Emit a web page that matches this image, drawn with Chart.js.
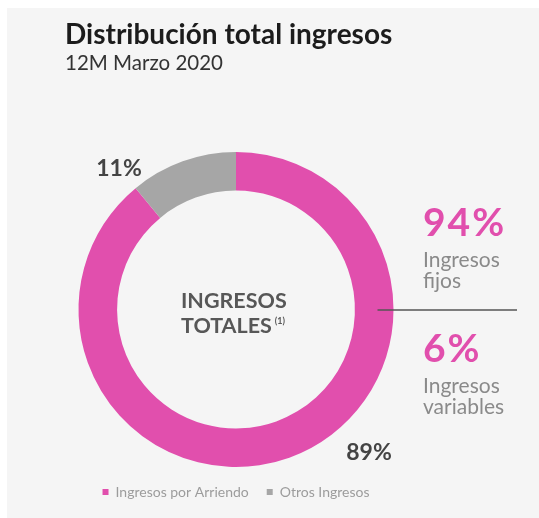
<!DOCTYPE html>
<html>
<head>
<meta charset="utf-8">
<script src="https://cdn.jsdelivr.net/npm/chart.js@4.4.1/dist/chart.umd.min.js"></script>
<style>
  html, body { margin: 0; padding: 0; background: #ffffff; }
  #wrap { position: relative; width: 539px; height: 518px; overflow: hidden; }
  #panel { position: absolute; left: 7px; top: 8px; width: 532px; height: 510px; background: #f5f5f5; }
  #chart { position: absolute; left: 0; top: 0; }
</style>
</head>
<body>
<div id="wrap">
  <div id="panel"></div>
  <canvas id="chart" width="539" height="518"></canvas>
</div>
<script>
const categories = ['Ingresos por Arriendo', 'Otros Ingresos'];
const shares = [89, 11];
const sliceColors = ['#e14fad', '#a6a6a6'];
const titleText = 'Distribución total ingresos';
const subtitleText = '12M Marzo 2020';
const centerLines = ['INGRESOS', 'TOTALES'];
const splitValues = ['94%', '6%'];
const splitLabels = [['Ingresos', 'fijos'], ['Ingresos', 'variables']];

const ctx = document.getElementById('chart').getContext('2d');

// Titles, centre text, slice labels and the right-hand breakdown
const annotations = {
    id: 'annotations',
    afterDraw(chart) {
        const c = chart.ctx;
        const arcs = chart.getDatasetMeta(0).data;
        const cx = arcs[0].x;
        const cy = arcs[0].y;
        const outer = arcs[0].outerRadius;

        c.save();
        c.textBaseline = 'alphabetic';
        c.textAlign = 'left';

        c.fillStyle = '#1c1c1c';
        c.font = 'bold 28px Lato';
        c.fillText(titleText, 65, 44);
        c.fillStyle = '#333333';
        c.font = '20.5px Lato';
        c.fillText(subtitleText, 65, 70);

        // centre of the ring
        c.fillStyle = '#575757';
        c.font = 'bold 21.5px Lato';
        const left = cx - 55;
        c.fillText(centerLines[0], left, 307.5);
        c.fillText(centerLines[1], left, 333);
        const w = c.measureText(centerLines[1]).width;
        c.font = 'bold 9px Lato';
        c.fillText('(1)', left + w + 3, 324);

        // slice percentages
        c.fillStyle = '#444444';
        c.font = 'bold 23px Lato';
        c.textAlign = 'center';
        c.textBaseline = 'middle';
        const a = arcs[1].startAngle;
        c.fillText(shares[1] + '%', cx + Math.cos(a) * (outer + 26), cy + Math.sin(a) * (outer + 26));
        c.fillText(shares[0] + '%', cx + 133, cy + 143);

        // right-hand breakdown
        c.textAlign = 'left';
        c.textBaseline = 'alphabetic';
        const rx = 423;
        c.strokeStyle = '#555555';
        c.lineWidth = 1.5;
        c.beginPath();
        c.moveTo(cx + outer - 16, 310);
        c.lineTo(517, 310);
        c.stroke();

        c.letterSpacing = '2px';
        c.fillStyle = '#e14fad';
        c.font = 'bold 39px Lato';
        c.fillText(splitValues[0], rx, 236);
        c.fillText(splitValues[1], rx, 362);
        c.letterSpacing = '0px';

        c.fillStyle = '#8a8a8a';
        c.font = '21px Lato';
        c.fillText(splitLabels[0][0], rx, 267);
        c.fillText(splitLabels[0][1], rx, 288);
        c.fillText(splitLabels[1][0], rx, 393);
        c.fillText(splitLabels[1][1], rx, 414);
        c.restore();
    }
};

new Chart(ctx, {
    type: 'doughnut',
    data: {
        labels: categories,
        datasets: [{
            data: shares,
            backgroundColor: sliceColors,
            borderWidth: 0,
            hoverOffset: 0
        }]
    },
    options: {
        responsive: false,
        animation: false,
        devicePixelRatio: 1,
        cutout: '75.5%',
        layout: {
            padding: { left: 77, right: 144, top: 152, bottom: 9 }
        },
        plugins: {
            legend: {
                position: 'bottom',
                labels: {
                    boxWidth: 6,
                    boxHeight: 6,
                    padding: 18,
                    color: '#9c9c9c',
                    font: { family: 'Lato', size: 14 }
                }
            },
            tooltip: { enabled: false }
        }
    },
    plugins: [annotations]
});
</script>
</body>
</html>
